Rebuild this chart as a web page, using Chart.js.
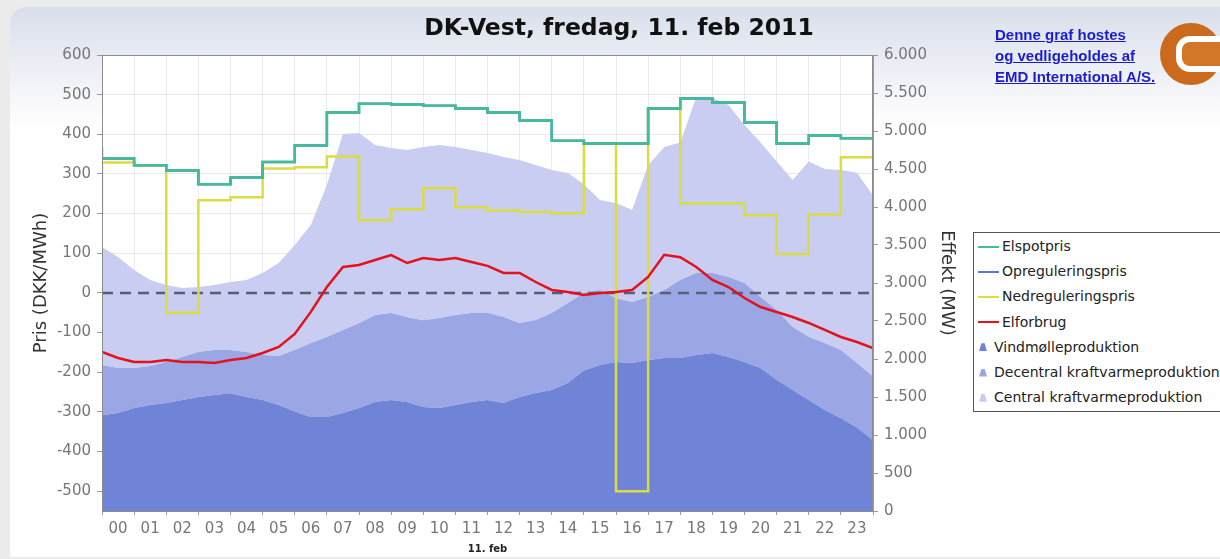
<!DOCTYPE html>
<html lang="da">
<head>
<meta charset="utf-8">
<title>DK-Vest, fredag, 11. feb 2011</title>
<script src="https://cdn.jsdelivr.net/npm/chart.js@4"></script>
<style>
  html, body { margin: 0; padding: 0; }
  body { width: 1220px; height: 559px; overflow: hidden; background: #ebebeb; position: relative; font-family: "DejaVu Sans", sans-serif; }
  #panel { position: absolute; left: 10px; top: 7px; width: 1230px; height: 550px; border-radius: 16px 0 0 0;
           background: linear-gradient(to bottom, #d9dfeb 0px, #eaedf4 55px, #fbfbfd 105px, #ffffff 130px); }
  #graf { position: absolute; left: 0; top: 0; }
  #titel { position: absolute; left: 619px; top: 15px; transform: translateX(-50%); white-space: nowrap;
           font: bold 23.5px/24px "DejaVu Sans", sans-serif; color: #111; }
  #link { position: absolute; left: 995px; top: 24px; font: bold 15px/21px "Liberation Sans", Arial, sans-serif;
          color: #1c1ccf; text-decoration: underline; white-space: nowrap; }
  #logo { position: absolute; left: 1155px; top: 18px; }
  #legend { position: absolute; left: 973px; top: 232px; width: 270px; height: 177px; border: 1px solid #555;
            padding: 1px 0 0 4px; box-sizing: content-box; background: #fff; }
  #legend .item { height: 25.2px; line-height: 25.2px; font-size: 14px; color: #222; white-space: nowrap; display: flex; align-items: center; }
  #legend .line { display: inline-block; width: 21px; height: 2px; margin-right: 3px; }
  #legend .area { display: inline-block; width: 8px; height: 8px; margin: 0 7px 0 1px; clip-path: polygon(30% 0, 70% 0, 100% 100%, 0 100%); }
</style>
</head>
<body>
<div id="panel"></div>
<canvas id="graf" width="1220" height="559" style="width:1220px;height:559px"></canvas>
<div id="titel">DK-Vest, fredag, 11. feb 2011</div>
<div id="link">Denne graf hostes<br>og vedligeholdes af<br>EMD International A/S.</div>
<svg id="logo" width="75" height="75" viewBox="0 0 75 75">
  <circle cx="36" cy="36" r="31" fill="#cb6a1c"/>
  <rect x="24" y="21" width="60" height="30" rx="11" fill="#d27628" stroke="#fff" stroke-width="6"/>
</svg>
<div id="legend"></div>
<script>
// timer (x-akse)
const hours = ["00", "01", "02", "03", "04", "05", "06", "07", "08", "09", "10", "11",
               "12", "13", "14", "15", "16", "17", "18", "19", "20", "21", "22", "23"];

// priser, DKK/MWh, en værdi pr. time
const elspotPris = [339, 322, 309, 274, 291, 330, 372, 455, 477, 475, 472, 465,
                    455, 435, 384, 377, 377, 465, 490, 480, 430, 377, 397, 390];
const opreguleringsPris = [339, 322, 309, 274, 291, 330, 372, 455, 477, 475, 472, 465,
                           455, 435, 384, 377, 377, 465, 490, 480, 430, 377, 397, 390];
const nedreguleringsPris = [329, 322, -50, 234, 241, 314, 317, 344, 183, 211, 264, 216,
                            208, 204, 201, 377, -500, 465, 226, 226, 196, 98, 198, 342];
const elspotForrige = 367;       // sidste time dagen før
const nedreguleringForrige = 200;
const opreguleringNaeste = 502;  // første time dagen efter

// effekt, MW, en værdi pr. halve time (00:00 .. 24:00)
const elforbrug = [2092, 2013, 1960, 1960, 1987, 1960, 1960, 1947, 1987, 2013, 2079, 2158,
                   2330, 2620, 2947, 3210, 3237, 3303, 3368, 3263, 3329, 3303, 3329, 3276,
                   3225, 3132, 3132, 3013, 2908, 2882, 2842, 2868, 2882, 2908, 3079, 3370,
                   3340, 3210, 3040, 2947, 2803, 2684, 2618, 2553, 2474, 2382, 2290, 2224, 2145];
const vindmoelle = [1260, 1290, 1355, 1395, 1420, 1460, 1500, 1525, 1550, 1500, 1460, 1395,
                    1310, 1237, 1237, 1290, 1355, 1434, 1460, 1434, 1368, 1355, 1395, 1434,
                    1460, 1421, 1500, 1553, 1592, 1684, 1850, 1920, 1960, 1947, 1987, 2013,
                    2013, 2053, 2079, 2026, 1960, 1882, 1724, 1592, 1460, 1329, 1220, 1100, 930];
const decentral = [661, 592, 527, 513, 541, 566, 592, 593, 568, 592, 593, 644,
                   808, 973, 1053, 1090, 1115, 1146, 1145, 1116, 1142, 1185, 1185, 1171,
                   1150, 1132, 974, 960, 1013, 1053, 1018, 988, 840, 803, 829, 895,
                   1027, 1079, 1053, 1053, 1040, 934, 921, 829, 830, 881, 898, 847, 840];
const central = [1553, 1460, 1289, 1131, 1013, 908, 855, 856, 895, 947, 1079, 1224,
                 1382, 1553, 2000, 2580, 2504, 2236, 2171, 2200, 2280, 2276, 2210, 2145,
                 2100, 2105, 2144, 2040, 1882, 1710, 1432, 1184, 1253, 1210, 1734, 1882,
                 1810, 2315, 2302, 2263, 2080, 2034, 1955, 1934, 2310, 2290, 2369, 2503, 2380];

// trappekurve: punkt i+1 bærer timen i (stepped 'after')
function trin(values, forrige, naeste) {
  const pts = [{ x: 0, y: forrige !== undefined ? forrige : values[0] }];
  values.forEach((v, i) => pts.push({ x: i + 1, y: v }));
  if (naeste !== undefined) pts.push({ x: values.length + 1, y: naeste });
  return pts;
}
const halvtimer = vals => vals.map((y, i) => ({ x: i / 2, y: y }));
const tusind = v => String(v).replace(/\B(?=(\d{3})+(?!\d))/g, ".");

Chart.defaults.font.family = "'DejaVu Sans', sans-serif";
Chart.defaults.font.size = 15;
Chart.defaults.color = "#767676";

const plotRamme = {
  id: "plotRamme",
  beforeDraw(chart) {
    const { ctx, chartArea: a } = chart;
    ctx.save();
    ctx.fillStyle = "#ffffff";
    ctx.fillRect(a.left, a.top, a.right - a.left, a.bottom - a.top);
    ctx.restore();
  },
  afterDraw(chart) {
    const { ctx, chartArea: a } = chart;
    ctx.save();
    ctx.strokeStyle = "#8c8c8c";
    ctx.lineWidth = 1;
    ctx.strokeRect(a.left + 0.5, a.top + 0.5, a.right - a.left - 1, a.bottom - a.top);
    ctx.restore();
  }
};

const ctx = document.getElementById("graf").getContext("2d");
const chart = new Chart(ctx, {
  type: "line",
  data: {
    datasets: [
      { label: "Elspotpris", data: trin(elspotPris, elspotForrige), yAxisID: "y",
        stepped: "after", borderColor: "#3ebf95", borderWidth: 2.5, order: 2 },
      { label: "Opreguleringspris", data: trin(opreguleringsPris, undefined, opreguleringNaeste), yAxisID: "y",
        stepped: "after", borderColor: "#5a78cf", borderWidth: 2.5, order: 3 },
      { label: "Nedreguleringspris", data: trin(nedreguleringsPris, nedreguleringForrige), yAxisID: "y",
        stepped: "after", borderColor: "#dadc40", borderWidth: 2.5, order: 4 },
      { label: "Elforbrug", data: halvtimer(elforbrug), yAxisID: "y2", stack: "forbrug",
        borderColor: "#e3121c", borderWidth: 2.5, order: 1 },
      { label: "", data: [{ x: 0, y: 0 }, { x: hours.length, y: 0 }], yAxisID: "y",
        borderColor: "#585d79", borderWidth: 2.5, borderDash: [11, 7], order: 5 },
      { label: "Vindmølleproduktion", data: halvtimer(vindmoelle), yAxisID: "y2", stack: "produktion",
        fill: "origin", backgroundColor: "#6f83d7", borderColor: "#6f83d7", borderWidth: 0, order: 10 },
      { label: "Decentral kraftvarmeproduktion", data: halvtimer(decentral), yAxisID: "y2", stack: "produktion",
        fill: "-1", backgroundColor: "#9ba7e4", borderColor: "#9ba7e4", borderWidth: 0, order: 10 },
      { label: "Central kraftvarmeproduktion", data: halvtimer(central), yAxisID: "y2", stack: "produktion",
        fill: "-1", backgroundColor: "#c9cdf1", borderColor: "#c9cdf1", borderWidth: 0, order: 10 }
    ]
  },
  options: {
    responsive: false,
    animation: false,
    events: [],
    elements: { point: { radius: 0 }, line: { tension: 0 } },
    layout: { padding: { left: 27, right: 259, top: 55, bottom: 0 } },
    plugins: { legend: { display: false }, tooltip: { enabled: false } },
    scales: {
      x: {
        type: "linear", min: 0, max: hours.length,
        ticks: { stepSize: 1, autoSkip: false, maxTicksLimit: 100, maxRotation: 0, labelOffset: 16, padding: 5,
                 callback: v => hours[v] !== undefined ? hours[v] : "" },
        grid: { color: "#ebebeb", tickLength: 4, tickColor: "#9a9a9a" },
        border: { color: "#9a9a9a" },
        title: { display: true, text: "11. feb", color: "#222", font: { size: 10, weight: "bold" }, padding: { top: 0, bottom: 4 } },
        afterFit: s => { s.height = 48; }
      },
      y: {
        position: "left", min: -550, max: 600,
        ticks: { stepSize: 100, includeBounds: false, maxTicksLimit: 100, padding: 6 },
        grid: { color: "#e9e9e9", tickLength: 5, tickColor: "#9a9a9a" },
        border: { color: "#9a9a9a" },
        title: { display: true, text: "Pris (DKK/MWh)", color: "#333", font: { size: 18 } },
        afterFit: s => { s.width = 75; }
      },
      y2: {
        position: "right", stacked: true, min: 0, max: 6000,
        ticks: { stepSize: 500, maxTicksLimit: 100, padding: 6, callback: v => tusind(v) },
        grid: { drawOnChartArea: false, tickLength: 5, tickColor: "#9a9a9a" },
        border: { color: "#9a9a9a" },
        title: { display: true, text: "Effekt (MW)", color: "#333", font: { size: 18 } },
        afterFit: s => { s.width = 88; }
      }
    }
  },
  plugins: [plotRamme]
});

// forklaring ud fra datasættene
const legend = document.getElementById("legend");
chart.data.datasets.filter(d => d.label).forEach(d => {
  const item = document.createElement("div");
  item.className = "item";
  const mark = document.createElement("span");
  if (d.fill) {
    mark.className = "area";
    mark.style.background = d.backgroundColor;
  } else {
    mark.className = "line";
    mark.style.background = d.borderColor;
  }
  item.appendChild(mark);
  item.appendChild(document.createTextNode(d.label));
  legend.appendChild(item);
});
</script>
</body>
</html>
